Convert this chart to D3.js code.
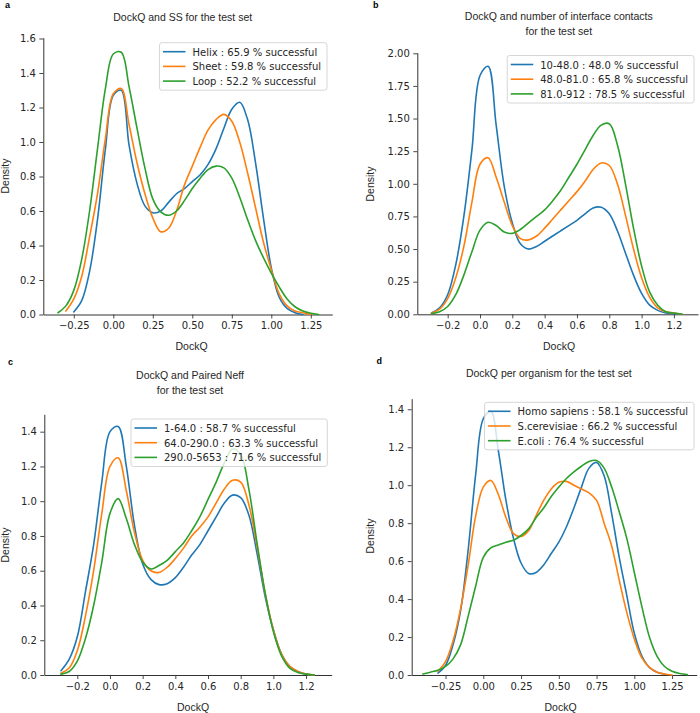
<!DOCTYPE html>
<html><head><meta charset="utf-8">
<script src="https://cdn.jsdelivr.net/npm/d3@7"></script>
<style>body{margin:0;background:#fff}</style>
</head><body>
<svg id="fig" width="700" height="713" xmlns="http://www.w3.org/2000/svg"></svg>
<script>
// ---------- data ----------
const colors = ["#1f77b4", "#ff7f0e", "#2ca02c"];

// Panel a: DockQ and SS
const gridA = [-0.35,-0.30,-0.25,-0.20,-0.15,-0.10,-0.05,0.00,0.05,0.10,0.15,0.20,0.25,0.30,0.35,0.40,0.45,0.50,0.55,0.60,0.65,0.70,0.75,0.80,0.85,0.90,0.95,1.00,1.05,1.10,1.15,1.20,1.25,1.30];
const helixA = [null,null,0.015,0.08,0.25,0.55,0.96,1.27,1.30,0.98,0.76,0.63,0.59,0.60,0.65,0.70,0.73,0.77,0.81,0.87,0.96,1.08,1.19,1.23,1.13,0.88,0.56,0.27,0.10,0.035,0.01,0.0,null,null];
const sheetA = [null,0.02,0.09,0.22,0.45,0.70,1.02,1.28,1.31,1.10,0.88,0.70,0.56,0.48,0.50,0.60,0.75,0.86,0.97,1.07,1.13,1.16,1.12,1.00,0.82,0.62,0.42,0.26,0.12,0.05,0.02,0.01,0.0,null];
const loopA  = [0.01,0.05,0.14,0.32,0.60,0.96,1.31,1.51,1.52,1.32,1.08,0.85,0.67,0.595,0.575,0.60,0.66,0.73,0.79,0.84,0.86,0.85,0.79,0.68,0.55,0.43,0.33,0.24,0.16,0.09,0.045,0.02,0.007,0.0];
const labelsA = ["Helix : 65.9 % successful", "Sheet : 59.8 % successful", "Loop : 52.2 % successful"];
const xTicksA = [-0.25,0.00,0.25,0.50,0.75,1.00,1.25];
const yTicksA = [0.0,0.2,0.4,0.6,0.8,1.0,1.2,1.4,1.6];

// Panel b: number of interface contacts
const gridB = [-0.30,-0.25,-0.20,-0.15,-0.10,-0.05,0.00,0.05,0.10,0.15,0.20,0.25,0.30,0.35,0.40,0.45,0.50,0.55,0.60,0.65,0.70,0.75,0.80,0.85,0.90,0.95,1.00,1.05,1.10,1.15,1.20,1.25];
const lowB  = [0.01,0.05,0.15,0.38,0.75,1.26,1.83,1.90,1.45,0.98,0.70,0.54,0.50,0.52,0.56,0.60,0.64,0.68,0.72,0.77,0.815,0.82,0.77,0.64,0.47,0.30,0.16,0.07,0.03,0.01,0.005,0.0];
const midB  = [0.01,0.04,0.12,0.28,0.52,0.86,1.15,1.20,1.05,0.86,0.68,0.58,0.57,0.60,0.66,0.73,0.80,0.87,0.94,1.02,1.11,1.16,1.14,1.00,0.76,0.50,0.28,0.13,0.05,0.02,0.01,0.0];
const highB = [0.005,0.02,0.06,0.15,0.30,0.48,0.645,0.705,0.68,0.63,0.62,0.65,0.70,0.75,0.80,0.87,0.95,1.05,1.15,1.26,1.37,1.45,1.46,1.30,1.00,0.66,0.37,0.17,0.07,0.02,0.01,0.0];
const labelsB = ["10-48.0 : 48.0 % successful", "48.0-81.0 : 65.8 % successful", "81.0-912 : 78.5 % successful"];
const xTicksB = [-0.2,0.0,0.2,0.4,0.6,0.8,1.0,1.2];
const yTicksB = [0.00,0.25,0.50,0.75,1.00,1.25,1.50,1.75,2.00];

// Panel c: Paired Neff
const gridC = [-0.30,-0.25,-0.20,-0.15,-0.10,-0.05,0.00,0.05,0.10,0.15,0.20,0.25,0.30,0.35,0.40,0.45,0.50,0.55,0.60,0.65,0.70,0.75,0.80,0.85,0.90,0.95,1.00,1.05,1.10,1.15,1.20,1.25];
const lowC  = [0.025,0.09,0.22,0.48,0.75,1.11,1.40,1.43,1.20,0.86,0.64,0.55,0.52,0.525,0.56,0.62,0.69,0.75,0.83,0.91,0.99,1.035,1.02,0.92,0.70,0.45,0.26,0.12,0.05,0.02,0.005,0.0];
const midC  = [0.01,0.04,0.14,0.34,0.60,0.93,1.20,1.25,1.06,0.82,0.66,0.60,0.59,0.62,0.67,0.73,0.80,0.85,0.91,0.99,1.07,1.12,1.11,0.98,0.74,0.47,0.26,0.12,0.05,0.02,0.005,0.0];
const highC = [0.005,0.02,0.08,0.21,0.40,0.65,0.93,1.015,0.90,0.75,0.65,0.61,0.63,0.66,0.71,0.76,0.83,0.91,1.01,1.11,1.22,1.30,1.27,1.07,0.76,0.47,0.25,0.11,0.04,0.015,0.005,0.0];
const labelsC = ["1-64.0 : 58.7 % successful", "64.0-290.0 : 63.3 % successful", "290.0-5653 : 71.6 % successful"];
const xTicksC = [-0.2,0.0,0.2,0.4,0.6,0.8,1.0,1.2];
const yTicksC = [0.0,0.2,0.4,0.6,0.8,1.0,1.2,1.4];

// Panel d: per organism
const gridD = [-0.40,-0.35,-0.30,-0.25,-0.20,-0.15,-0.10,-0.05,0.00,0.05,0.10,0.15,0.20,0.25,0.30,0.35,0.40,0.45,0.50,0.55,0.60,0.65,0.70,0.75,0.80,0.85,0.90,0.95,1.00,1.05,1.10,1.15,1.20,1.25,1.30,1.35];
const humanD = [null,null,0.01,0.05,0.16,0.34,0.66,1.06,1.35,1.39,1.18,0.92,0.72,0.59,0.535,0.54,0.58,0.64,0.70,0.78,0.88,0.99,1.09,1.12,1.05,0.85,0.62,0.42,0.22,0.10,0.04,0.015,0.005,null,null,null];
const yeastD = [null,null,0.02,0.07,0.18,0.35,0.58,0.84,0.99,1.025,0.95,0.83,0.745,0.73,0.76,0.84,0.92,0.98,1.015,1.02,1.00,0.98,0.96,0.92,0.80,0.68,0.50,0.33,0.19,0.09,0.04,0.015,0.005,0.0,null,null];
const ecoliD = [0.005,0.015,0.025,0.045,0.085,0.16,0.31,0.47,0.62,0.67,0.685,0.70,0.71,0.735,0.77,0.83,0.88,0.94,0.99,1.035,1.07,1.10,1.125,1.13,1.09,0.99,0.86,0.72,0.54,0.36,0.20,0.10,0.045,0.02,0.008,0.002];
const labelsD = ["Homo sapiens : 58.1 % successful", "S.cerevisiae : 66.2 % successful", "E.coli : 76.4 % successful"];
const xTicksD = [-0.25,0.00,0.25,0.50,0.75,1.00,1.25];
const yTicksD = [0.0,0.2,0.4,0.6,0.8,1.0,1.2,1.4];

// ---------- layout ----------
const panels = [
  {letter:"a", letterPos:[5,8], title:["DockQ and SS for the test set"], titleX:182.7, titleY:21,
   grid:gridA, series:[helixA,sheetA,loopA], labels:labelsA, xTicks:xTicksA, yTicks:yTicksA, xFmt:".2f", yFmt:".1f",
   xDom:[-0.443,1.386], xRange:[43.3,332.3], yDom:[0,1.605], yRange:[314.5,314.5-1.605*172.5],
   legRight:327, legTop:42.7, xLab:[191.5,350], yLab:[9,176]},
  {letter:"b", letterPos:[373,8], title:["DockQ and number of interface contacts","for the test set"], titleX:558.8, titleY:20,
   grid:gridB, series:[lowB,midB,highB], labels:labelsB, xTicks:xTicksB, yTicks:yTicksB, xFmt:".1f", yFmt:".2f",
   xDom:[-0.388,1.349], xRange:[417.3,698], yDom:[0,2.006], yRange:[314.3,314.3-2.006*130.5],
   legRight:694, legTop:55.5, xLab:[559,350], yLab:[374,184]},
  {letter:"c", letterPos:[8,365], title:["DockQ and Paired Neff","for the test set"], titleX:190, titleY:379,
   grid:gridC, series:[lowC,midC,highC], labels:labelsC, xTicks:xTicksC, yTicks:yTicksC, xFmt:".1f", yFmt:".1f",
   xDom:[-0.402,1.357], xRange:[44.3,331.7], yDom:[0,1.50], yRange:[675,675-1.50*173.8],
   legRight:327.3, legTop:419, xLab:[193,711], yLab:[9,545]},
  {letter:"d", letterPos:[376.5,364], title:["DockQ per organism for the test set"], titleX:548.8, titleY:377,
   grid:gridD, series:[humanD,yeastD,ecoliD], labels:labelsD, xTicks:xTicksD, yTicks:yTicksD, xFmt:".2f", yFmt:".1f",
   xDom:[-0.474,1.413], xRange:[411.7,696.7], yDom:[0,1.456], yRange:[675,675-1.456*189.8],
   legRight:694, legTop:402.3, xLab:[560.5,711], yLab:[374,536]}
];

const svg = d3.select("#fig");
const ink = "#262626";
const sansTitle = "'Liberation Sans', Arial, sans-serif";
const sansTick = "'DejaVu Sans', sans-serif";

panels.forEach(p => {
  const g = svg.append("g");
  const x = d3.scaleLinear().domain(p.xDom).range(p.xRange);
  const y = d3.scaleLinear().domain(p.yDom).range(p.yRange);

  g.append("text").attr("x", p.letterPos[0]).attr("y", p.letterPos[1])
    .attr("font-family", sansTitle).attr("font-weight", "bold").attr("font-size", 9).attr("fill", "#000").text(p.letter);

  p.title.forEach((t, i) => {
    g.append("text").attr("x", p.titleX).attr("y", p.titleY + i * 14.5)
      .attr("text-anchor", "middle").attr("font-family", sansTitle).attr("font-size", 10.5).attr("fill", ink).text(t);
  });

  const xAxis = d3.axisBottom(x).tickValues(p.xTicks).tickFormat(d3.format(p.xFmt)).tickSize(4).tickSizeOuter(0).tickPadding(3.5);
  const yAxis = d3.axisLeft(y).tickValues(p.yTicks).tickFormat(d3.format(p.yFmt)).tickSize(4).tickSizeOuter(0).tickPadding(3.5);
  const gx = g.append("g").attr("transform", `translate(0,${p.yRange[0]})`).call(xAxis);
  const gy = g.append("g").attr("transform", `translate(${p.xRange[0]},0)`).call(yAxis);
  [gx, gy].forEach(a => {
    a.selectAll("path.domain").attr("stroke", "#333").attr("stroke-width", 1);
    a.selectAll(".tick line").attr("stroke", "#333").attr("stroke-width", 0.9);
    a.selectAll(".tick text").attr("font-family", sansTick).attr("font-size", 10).attr("fill", ink);
  });

  g.append("text").attr("x", p.xLab[0]).attr("y", p.xLab[1]).attr("text-anchor", "middle")
    .attr("font-family", sansTitle).attr("font-size", 10.5).attr("fill", ink).text("DockQ");
  g.append("text").attr("transform", `translate(${p.yLab[0]},${p.yLab[1]}) rotate(-90)`).attr("text-anchor", "middle")
    .attr("font-family", sansTitle).attr("font-size", 10.5).attr("fill", ink).text("Density");

  const line = d3.line()
    .defined(d => d[1] !== null)
    .x(d => x(d[0])).y(d => y(d[1]))
    .curve(d3.curveCatmullRom.alpha(0.5));
  p.series.forEach((s, i) => {
    const pts = p.grid.map((gv, j) => [gv, s[j]]);
    g.append("path").datum(pts).attr("d", line)
      .attr("fill", "none").attr("stroke", colors[i]).attr("stroke-width", 1.6)
      .attr("stroke-linejoin", "round").attr("stroke-linecap", "round");
  });

  const leg = g.append("g");
  const box = leg.append("rect");
  const texts = p.labels.map((lab, i) => leg.append("text")
    .attr("font-family", sansTick).attr("font-size", 10).attr("fill", ink)
    .attr("dominant-baseline", "central").text(lab));
  const maxW = d3.max(texts, t => t.node().getComputedTextLength());
  const left = p.legRight - (33 + maxW + 6);
  box.attr("x", left).attr("y", p.legTop).attr("width", p.legRight - left).attr("height", 47.5)
    .attr("rx", 2.5).attr("fill", "#fff").attr("fill-opacity", 0.8).attr("stroke", "#cccccc").attr("stroke-width", 0.8);
  p.labels.forEach((lab, i) => {
    const cy = p.legTop + 9 + i * 14.7;
    leg.append("line").attr("x1", left + 3.5).attr("x2", left + 26).attr("y1", cy).attr("y2", cy)
      .attr("stroke", colors[i]).attr("stroke-width", 1.6);
    texts[i].attr("x", left + 33).attr("y", cy + 0.5);
  });
});
</script>
</body></html>
